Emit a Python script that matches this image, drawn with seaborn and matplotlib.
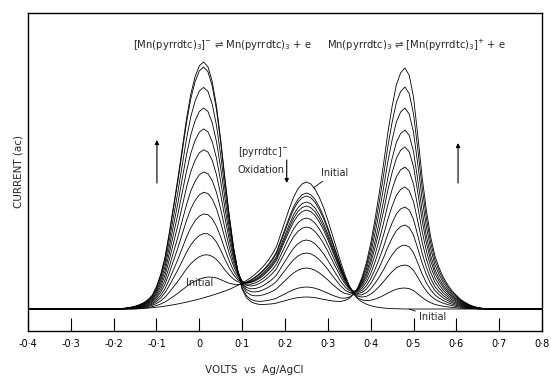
import numpy as np
import pandas as pd
import matplotlib
matplotlib.use("Agg")
import matplotlib.pyplot as plt
import seaborn as sns

# ---------------- data ----------------
# peak amplitudes (in plot units, baseline = 0) for each successive scan
scan_ids = list(range(13))
left_amp = [0, 21, 44, 66, 86, 108, 129, 152, 174, 196, 218, 240, 246]
mid_amp = [127, 116, 113, 107, 103, 99, 91, 82, 69, 56, 41, 22, 12]
right_amp = [0, 21, 44, 64, 84, 102, 122, 142, 162, 179, 201, 222, 241]

left_center = 0.01
mid_center = 0.25
right_center = 0.48

# digitised normalised peak shapes (0.01 V steps)
left_offsets = [round(-0.20 + 0.01 * i, 2) for i in range(41)]
left_profile = [0.000, 0.002, 0.004, 0.007, 0.011, 0.017, 0.025, 0.037, 0.055, 0.090,
                0.140, 0.210, 0.310, 0.420, 0.530, 0.650, 0.770, 0.870, 0.940, 0.985,
                1.000,
                0.980, 0.920, 0.820, 0.680, 0.520, 0.370, 0.240, 0.140, 0.070, 0.035,
                0.018, 0.009, 0.004, 0.002, 0.001, 0.0, 0.0, 0.0, 0.0, 0.0]
right_offsets = [round(-0.20 + 0.01 * i, 2) for i in range(41)]
right_profile = [0.000, 0.000, 0.002, 0.004, 0.008, 0.013, 0.022, 0.035, 0.055, 0.085,
                 0.130, 0.190, 0.270, 0.370, 0.480, 0.600, 0.730, 0.840, 0.930, 0.980,
                 1.000,
                 0.970, 0.880, 0.720, 0.550, 0.410, 0.300, 0.220, 0.170, 0.130, 0.100,
                 0.075, 0.057, 0.040, 0.028, 0.018, 0.011, 0.006, 0.003, 0.001, 0.000]
mid_offsets = [round(-0.40 + 0.01 * i, 2) for i in range(66)]
mid_profile = [0.000, 0.002, 0.004, 0.007, 0.010, 0.014, 0.018, 0.023, 0.028, 0.034,
               0.040, 0.047, 0.054, 0.062, 0.070, 0.079, 0.088, 0.098, 0.108, 0.119,
               0.130, 0.142, 0.155, 0.170, 0.186, 0.204, 0.224, 0.247, 0.273, 0.303,
               0.338, 0.380, 0.430, 0.490, 0.590, 0.690, 0.790, 0.880, 0.945, 0.985,
               1.000,
               0.985, 0.945, 0.880, 0.800, 0.700, 0.590, 0.480, 0.370, 0.270, 0.185,
               0.120, 0.080, 0.055, 0.038, 0.026, 0.018, 0.012, 0.008, 0.005, 0.003,
               0.002, 0.001, 0.000, 0.000, 0.000]

tick_values = [-0.4, -0.3, -0.2, -0.1, 0.0, 0.1, 0.2, 0.3, 0.4, 0.5, 0.6, 0.7, 0.8]
tick_labels = ["-0·4", "-0·3", "-0·2", "-0·1", "0", "0·1", "0·2", "0·3",
               "0·4", "0·5", "0·6", "0·7", "0·8"]

# ---------------- build curves ----------------
volts = np.round(np.arange(-40, 81) * 0.01, 2)


def peak_on_grid(offsets, values, center, amp):
    y = np.zeros_like(volts)
    idx = np.rint((center + np.asarray(offsets) - volts[0]) / 0.01).astype(int)
    ok = (idx >= 0) & (idx < len(volts))
    y[idx[ok]] += amp * np.asarray(values)[ok]
    return y


frames = []
for s, a, m, b in zip(scan_ids, left_amp, mid_amp, right_amp):
    cur = (peak_on_grid(left_offsets, left_profile, left_center, a)
           + peak_on_grid(mid_offsets, mid_profile, mid_center, m)
           + peak_on_grid(right_offsets, right_profile, right_center, b))
    frames.append(pd.DataFrame({"volts": volts, "current": cur, "scan": s}))
df = pd.concat(frames, ignore_index=True)

# ---------------- plot ----------------
sns.set_style("white")
plt.rcParams["font.family"] = ["DejaVu Sans"]
plt.rcParams["mathtext.default"] = "regular"

fig = plt.figure(figsize=(5.51, 3.77), dpi=100)
ax = fig.add_axes([28 / 551, 46 / 377, 514 / 551, 318 / 377])

sns.lineplot(data=df, x="volts", y="current", units="scan", estimator=None,
             color="black", linewidth=0.6, ax=ax, legend=False)

ax.set_xlim(-0.4, 0.8)
ax.set_ylim(-22, 296)
ax.set_xticks(tick_values)
ax.set_xticklabels(tick_labels, fontsize=7)
ax.set_yticks([])
ax.tick_params(axis="x", direction="in", length=9.4, width=0.8, pad=5.5,
               bottom=True, top=False, colors="black")
for sp in ax.spines.values():
    sp.set_color("black")
    sp.set_linewidth(1.0)

ax.set_xlabel("VOLTS  vs  Ag/AgCl", fontsize=7.5, x=0.44, labelpad=12)
ax.set_ylabel("CURRENT (ac)", fontsize=7.5, labelpad=3)

fs = 7
ax.text(-0.155, 264, r"$\left[\mathrm{Mn(pyrrdtc)_3}\right]^{-}$ ⇌ Mn(pyrrdtc)$_3$ + e",
        fontsize=7.2, ha="left", va="center")
ax.text(0.298, 264, r"Mn(pyrrdtc)$_3$ ⇌ $\left[\mathrm{Mn(pyrrdtc)_3}\right]^{+}$ + e",
        fontsize=7.2, ha="left", va="center")
ax.text(0.148, 157, r"$[\mathrm{pyrrdtc}]^{-}$", fontsize=fs, ha="center", va="center")
ax.text(0.143, 139, "Oxidation", fontsize=fs, ha="center", va="center")

arrow = dict(arrowstyle="-|>", lw=0.8, color="black", mutation_scale=6,
             shrinkA=0, shrinkB=0)
ax.annotate("", xy=(0.204, 126), xytext=(0.204, 149), arrowprops=arrow)
ax.annotate("", xy=(-0.099, 169), xytext=(-0.099, 126), arrowprops=arrow)
ax.annotate("", xy=(0.604, 166), xytext=(0.604, 126), arrowprops=arrow)

lead = dict(arrowstyle="-", lw=0.6, color="black", shrinkA=0, shrinkB=0)
ax.annotate("Initial", xy=(0.266, 121), xytext=(0.283, 136), fontsize=fs,
            ha="left", va="center", arrowprops=lead)
ax.text(-0.03, 26, "Initial", fontsize=fs, ha="left", va="center")
ax.annotate("Initial", xy=(0.49, 0), xytext=(0.512, -8), fontsize=fs,
            ha="left", va="center", arrowprops=lead)

fig.savefig("out.png", dpi=100)
